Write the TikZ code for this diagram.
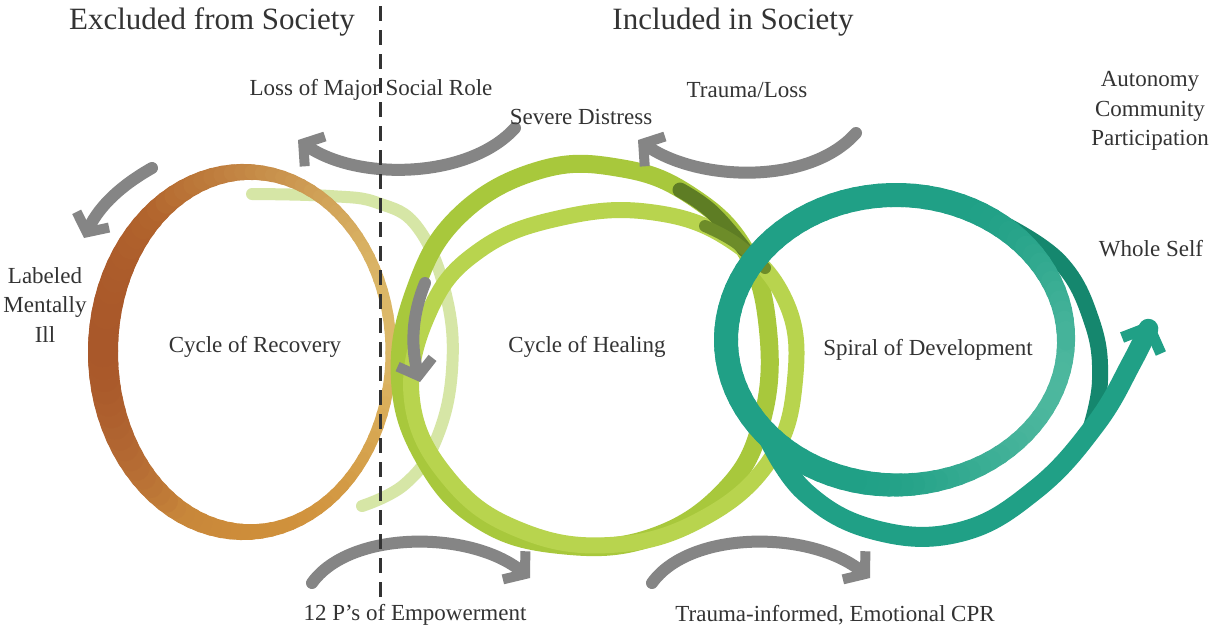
\documentclass[tikz,border=0pt]{standalone}
\usepackage{fontspec}
\setmainfont{Liberation Serif}
\usetikzlibrary{arrows.meta}
\definecolor{textGray}{HTML}{333333}
\definecolor{arrowGray}{HTML}{858585}
\definecolor{recoveryTan}{HTML}{DCB868}
\definecolor{recoveryOchre}{HTML}{D69A3E}
\definecolor{recoveryBrown}{HTML}{B4682E}
\definecolor{recoveryRed}{HTML}{A04A26}
\definecolor{paleGreen}{HTML}{D6E6A6}
\definecolor{healingGreen}{HTML}{A8C83C}
\definecolor{healingLight}{HTML}{B8D44E}
\definecolor{healingDark}{HTML}{5E7D24}
\definecolor{spiralTeal}{HTML}{20A086}
\definecolor{spiralDark}{HTML}{15876E}
\definecolor{spiralLight}{HTML}{5CBFA6}

\begin{document}
\begin{tikzpicture}[
  x=1pt, y=-1pt,
  every node/.style={text=textGray, inner sep=0pt},
  big title/.style={font=\fontsize{31}{36}\selectfont},
  stage text/.style={font=\fontsize{23}{29.5}\selectfont, align=center},
  ring/.style={line width=#1, line cap=round, line join=round},
  ring/.default=18pt,
  gray arrow/.style={
    draw=arrowGray, line width=12pt, line cap=round,
    -{Straight Barb[length=14pt,width=36pt,line width=10pt]}
  },
  spiral arrow/.style={
    ring=20pt, draw=spiralTeal,
    -{Straight Barb[length=20pt,width=42pt,line width=11pt]}
  },
  divider/.style={
    draw=textGray, line width=3pt, dash pattern=on 15pt off 9pt
  }
]
\useasboundingbox[fill=white] (0,0) rectangle (1217,630);

% cycle of recovery
\draw[ring=12pt, draw=paleGreen] plot[smooth, tension=0.7] coordinates
  {(252,194) (330,196) (378,203) (418,228) (446,295) (452,370) (436,440) (405,484) (362,506)};
\foreach[evaluate=\t as \lft using {(1-cos(\t+2))/2},
         evaluate=\t as \btm using {max(0,sin(\t+2))}] \t in {0,4,...,356}
{
  \pgfmathtruncatemacro\bmix{100*\btm}
  \pgfmathtruncatemacro\lmix{100*min(1,1.25*\lft)*(1-0.6*\btm)}
  \pgfmathtruncatemacro\rmix{max(0,(\lft-0.75)*220)}
  \pgfmathsetmacro\wid{11+19*\lft*\lft}
  \colorlet{segColor}{recoveryOchre!\bmix!recoveryTan}
  \colorlet{segColor}{recoveryBrown!\lmix!segColor}
  \draw[ring=\wid pt, draw=recoveryRed!\rmix!segColor]
    ({247+144*cos(\t)},{352+180*sin(\t)})
    arc[start angle=\t, end angle=\t+4.5, x radius=144, y radius=180];
}

% cycle of healing
\draw[ring=18pt, draw=healingGreen] plot[smooth cycle, tension=0.7] coordinates
  {(400,380) (415,290) (460,215) (540,170) (620,168) (690,195) (745,250) (768,330)
   (762,420) (725,490) (650,538) (560,545) (480,520) (425,460)};
\draw[ring=16pt, draw=healingLight] plot[smooth cycle, tension=0.7] coordinates
  {(412,400) (430,310) (480,250) (560,218) (650,212) (730,240) (785,300) (795,380)
   (770,460) (700,520) (610,545) (520,530) (450,480)};
\draw[ring=15pt, draw=healingDark] plot[smooth, tension=0.7] coordinates
  {(680,190) (712,212) (745,250)};
\draw[ring=12pt, draw=healingDark!80!healingGreen] plot[smooth, tension=0.7] coordinates
  {(705,226) (735,242) (765,268)};
\draw[gray arrow] (425,283) .. controls (410,320) and (412,350) .. (420,382);

% spiral of development
\draw[ring=16pt, draw=spiralDark] plot[smooth, tension=0.7] coordinates
  {(1000,222) (1060,262) (1092,322) (1100,380) (1090,430)};
\draw[spiral arrow] plot[smooth, tension=0.7] coordinates
  {(766,433) (805,492) (875,530) (960,532) (1035,490) (1095,425) (1132,362) (1152,320)};
\foreach[evaluate=\t as \lgt using {max(0,cos(\t-20))^2}] \t in {0,4,...,356}
{
  \pgfmathtruncatemacro\gmix{75*\lgt}
  \pgfmathsetmacro\wid{24-7*\lgt}
  \draw[ring=\wid pt, draw=spiralLight!\gmix!spiralTeal]
    ({896+170*cos(\t)},{340+145*sin(\t)})
    arc[start angle=\t, end angle=\t+4.5, x radius=170, y radius=145];
}

% movement between the cycles
\draw[gray arrow] (515,128) .. controls (470,178) and (360,182) .. (298,140);
\draw[gray arrow] (856,133) .. controls (810,185) and (700,182) .. (638,140);
\draw[gray arrow] (152,168) .. controls (122,185) and (100,205) .. (84,238);
\draw[gray arrow] (312,583) .. controls (350,530) and (470,530) .. (530,578);
\draw[gray arrow] (652,583) .. controls (690,530) and (810,530) .. (870,578);

\draw[divider] (380,6) -- (380,600);

\node[big title] (excluded) at (212,22) {Excluded from Society};
\node[big title] (included) at (733,22) {Included in Society};
\node[stage text] (lossRole) at (371,90) {Loss of Major Social Role};
\node[stage text] (distress) at (581,117) {Severe Distress};
\node[stage text] (trauma) at (747,90) {Trauma/Loss};
\node[stage text] (autonomy) at (1150,111) {Autonomy\\Community\\Participation};
\node[stage text] (wholeSelf) at (1151,249) {Whole Self};
\node[stage text] (labeled) at (45,305) {Labeled\\Mentally\\Ill};
\node[stage text] (recovery) at (255,347) {Cycle of Recovery};
\node[stage text] (healing) at (587,347) {Cycle of Healing};
\node[stage text] (spiral) at (928,350) {Spiral of Development};
\node[stage text] (empower) at (415,615) {12 P’s of Empowerment};
\node[stage text] (cpr) at (835,615) {Trauma-informed, Emotional CPR};
\end{tikzpicture}
\end{document}
